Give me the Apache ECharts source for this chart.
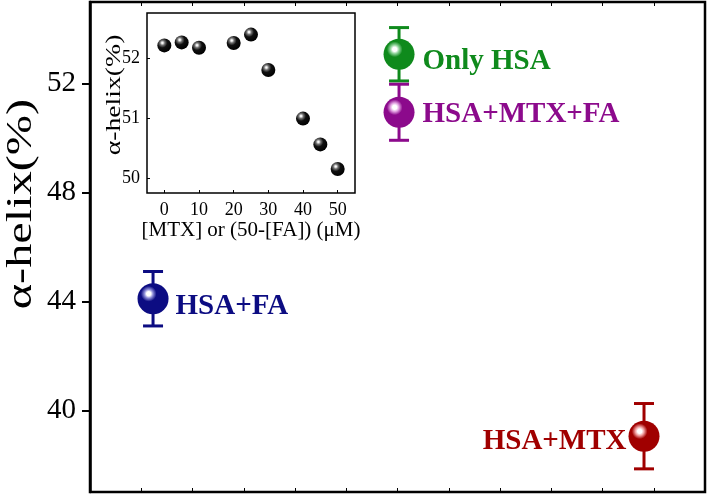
<!DOCTYPE html>
<html>
<head>
<meta charset="utf-8">
<script src="https://cdn.jsdelivr.net/npm/echarts@6/dist/echarts.min.js"></script>
<style>
html,body{margin:0;padding:0;background:#fff;}
#main{width:708px;height:494px;}
</style>
</head>
<body>
<div id="main"></div>
<script>
// Main chart data
var groups = ['HSA+FA', 'Only HSA', 'HSA+MTX+FA', 'HSA+MTX'];
var groupX = [1.23, 6.03, 6.03, 10.81];
var helix = [44.1, 53.08, 50.95, 39.05];
var helixErr = [1.0, 0.98, 1.03, 1.2];
var mainTicks = [40, 44, 48, 52];
var yTitle = '\u03B1-helix(%)';

// Inset data
var insetConc = [0, 5, 10, 20, 25, 30, 40, 45, 50];
var insetHelix = [52.21, 52.26, 52.17, 52.25, 52.39, 51.80, 50.99, 50.56, 50.15];
var insetYTicks = [50, 51, 52];
var insetXTicks = [0, 10, 20, 30, 40, 50];
var insetXTitle = '[MTX] or (50-[FA]) (\u03BCM)';
var insetYTitle = '\u03B1-helix(%)';

var colors = ['#0c0c82', '#0f8a1c', '#8c0a8c', '#a00000'];
var lights = ['#8c8cd8', '#8fd49a', '#e0a0e0', '#f0a0a0'];
var labelPos = [
  {position: 'right', distance: 7, offset: [0, 8]},
  {position: 'right', distance: 8, offset: [0, 7]},
  {position: 'right', distance: 8, offset: [0, 2]},
  {position: 'left', distance: 2, offset: [0, 5]}
];

function ballGrad(base, light) {
  return new echarts.graphic.RadialGradient(0.36, 0.34, 0.7, [
    {offset: 0, color: '#ffffff'},
    {offset: 0.1, color: '#ffffff'},
    {offset: 0.2, color: light},
    {offset: 0.36, color: base},
    {offset: 1, color: base}
  ]);
}

var FONT = 'Liberation Serif';

var scatterData = groups.map(function (g, i) {
  return {
    name: g,
    value: [groupX[i], helix[i]],
    itemStyle: {color: ballGrad(colors[i], lights[i]), opacity: 1},
    label: {
      show: true,
      position: labelPos[i].position,
      distance: labelPos[i].distance,
      offset: labelPos[i].offset,
      formatter: '{b}',
      color: colors[i],
      opacity: 1,
      fontFamily: FONT,
      fontWeight: 'bold',
      fontSize: 29
    }
  };
});

var errData = groups.map(function (g, i) {
  return [groupX[i], helix[i] - helixErr[i], helix[i] + helixErr[i], i];
});

var insetData = insetConc.map(function (c, i) { return [c, insetHelix[i]]; });

var chart = echarts.init(document.getElementById('main'), null, {renderer: 'canvas'});

var option = {
  backgroundColor: '#fff',
  animation: false,
  grid: [
    {left: 90, top: 2, right: 3, bottom: 2, show: true, borderColor: '#000', borderWidth: 2.5,
     backgroundColor: 'transparent', outerBoundsMode: 'none', containLabel: false},
    {left: 147, top: 13, width: 208, height: 180, show: true, borderColor: '#000', borderWidth: 1.5,
     backgroundColor: 'transparent', outerBoundsMode: 'none', containLabel: false}
  ],
  graphic: [
    {type: 'text', x: 22, y: 204, rotation: Math.PI / 2, scaleX: 1.38, z: 10,
     style: {text: yTitle, fill: '#000', font: '35px "Liberation Serif"', align: 'center', verticalAlign: 'middle'}},
    {type: 'text', x: 114, y: 95, rotation: Math.PI / 2, scaleX: 1.32, z: 10,
     style: {text: insetYTitle, fill: '#000', font: '21px "Liberation Serif"', align: 'center', verticalAlign: 'middle'}}
  ],
  xAxis: [
    {gridIndex: 0, type: 'value', min: 0, max: 12, interval: 1,
     axisLine: {show: false, onZero: false}, splitLine: {show: false},
     axisTick: {show: true, inside: true, length: 4, lineStyle: {color: '#000', width: 1}},
     axisLabel: {show: false}},
    {gridIndex: 0, type: 'value', position: 'top', min: 0, max: 12, interval: 1,
     axisLine: {show: false, onZero: false}, splitLine: {show: false},
     axisTick: {show: true, inside: true, length: 4, lineStyle: {color: '#000', width: 1}},
     axisLabel: {show: false}},
    {gridIndex: 1, type: 'value', min: -5, max: 55,
     axisLine: {show: false, onZero: false}, splitLine: {show: false},
     axisTick: {show: true, inside: true, length: 3, customValues: insetXTicks, lineStyle: {color: '#000', width: 1}},
     axisLabel: {show: true, customValues: insetXTicks, margin: 8, color: '#000', fontFamily: FONT, fontSize: 18},
     name: insetXTitle, nameLocation: 'middle', nameGap: 24,
     nameTextStyle: {color: '#000', fontFamily: FONT, fontSize: 21}}
  ],
  yAxis: [
    {gridIndex: 0, type: 'value', min: 37, max: 55,
     axisLine: {show: true, onZero: false, lineStyle: {color: '#000', width: 2.5}}, splitLine: {show: false},
     axisTick: {show: true, inside: false, length: 8, customValues: mainTicks, lineStyle: {color: '#000', width: 2}},
     axisLabel: {show: true, customValues: mainTicks, margin: 14, color: '#000', fontFamily: FONT, fontSize: 29}},
    {gridIndex: 1, type: 'value', min: 49.75, max: 52.75,
     axisLine: {show: false, onZero: false}, splitLine: {show: false},
     axisTick: {show: true, inside: true, length: 3, customValues: insetYTicks, lineStyle: {color: '#000', width: 1}},
     axisLabel: {show: true, customValues: insetYTicks, margin: 7, color: '#000', fontFamily: FONT, fontSize: 18}}
  ],
  series: [
    {
      type: 'custom', xAxisIndex: 0, yAxisIndex: 0, z: 2,
      data: errData,
      renderItem: function (params, api) {
        var x = api.value(0);
        var lo = api.coord([x, api.value(1)]);
        var hi = api.coord([x, api.value(2)]);
        var c = colors[api.value(3)];
        var half = 10;
        var st = {stroke: c, lineWidth: 3};
        return {
          type: 'group',
          children: [
            {type: 'line', shape: {x1: lo[0], y1: lo[1], x2: hi[0], y2: hi[1]}, style: st},
            {type: 'line', shape: {x1: lo[0] - half, y1: lo[1], x2: lo[0] + half, y2: lo[1]}, style: st},
            {type: 'line', shape: {x1: hi[0] - half, y1: hi[1], x2: hi[0] + half, y2: hi[1]}, style: st}
          ]
        };
      }
    },
    {
      type: 'scatter', xAxisIndex: 0, yAxisIndex: 0, z: 5,
      symbol: 'circle', symbolSize: 31,
      itemStyle: {opacity: 1},
      data: scatterData
    },
    {
      type: 'scatter', xAxisIndex: 2, yAxisIndex: 1, z: 6,
      symbol: 'circle', symbolSize: 14,
      itemStyle: {
        opacity: 1,
        color: new echarts.graphic.RadialGradient(0.36, 0.32, 0.7, [
          {offset: 0, color: '#ffffff'},
          {offset: 0.08, color: '#f0f0f0'},
          {offset: 0.25, color: '#707070'},
          {offset: 0.5, color: '#101010'},
          {offset: 1, color: '#000000'}
        ])
      },
      data: insetData
    }
  ]
};

chart.setOption(option);
</script>
</body>
</html>
